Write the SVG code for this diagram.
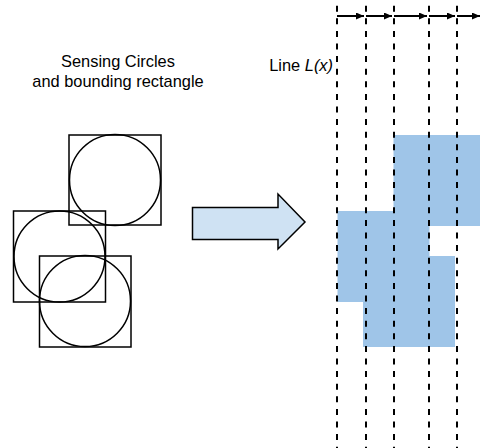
<svg xmlns="http://www.w3.org/2000/svg" width="480" height="448" viewBox="0 0 480 448">
<style>
.lbl{font-family:"Liberation Sans",Arial,sans-serif;font-size:16.4px;fill:#000}
.shape{fill:none;stroke:#000;stroke-width:1.5}
.cell{fill:#9fc5e8;stroke:none}
.dash{stroke:#000;stroke-width:2;stroke-dasharray:6 6.6;stroke-dashoffset:6.9}
.step{stroke:#000;stroke-width:2;marker-end:url(#ah)}
</style>
<defs>
<marker id="ah" viewBox="0 0 8 7" refX="8" refY="3.5" markerWidth="8" markerHeight="7" markerUnits="userSpaceOnUse" orient="auto">
<path d="M0,0 L8,3.5 L0,7 Z" fill="#000"/>
</marker>
</defs>
<rect width="480" height="448" fill="#fff"/>
<g id="title">
<text class="lbl" x="118" y="67" text-anchor="middle">Sensing Circles</text>
<text class="lbl" x="118" y="87" text-anchor="middle">and bounding rectangle</text>
</g>
<g id="sensor-top">
<rect class="shape" x="69" y="135" width="92" height="90"/>
<circle class="shape" cx="115" cy="180" r="45.5"/>
</g>
<g id="sensor-middle">
<rect class="shape" x="13.5" y="211" width="92" height="91"/>
<circle class="shape" cx="59.5" cy="256.5" r="45.5"/>
</g>
<g id="sensor-bottom">
<rect class="shape" x="39.5" y="256" width="91.5" height="91"/>
<circle class="shape" cx="85" cy="301" r="45.5"/>
</g>
<g id="transform-arrow">
<path d="M192.5,207.5 L278,207.5 L278,194 L305,222 L278,249 L278,239.5 L192.5,239.5 Z" fill="#cfe2f3" stroke="#000" stroke-width="1.5" stroke-linejoin="miter"/>
</g>
<g id="cells">
<rect class="cell" x="393.5" y="135" width="90" height="91"/>
<rect class="cell" x="337.5" y="211" width="92" height="91"/>
<rect class="cell" x="363" y="256" width="92" height="91"/>
</g>
<g id="line-label">
<text class="lbl" x="333" y="71" text-anchor="end">Line <tspan font-style="italic">L(x)</tspan></text>
</g>
<g id="connectors">
<line class="dash" x1="337" y1="0" x2="337" y2="448"/>
<line class="dash" x1="366" y1="0" x2="366" y2="448"/>
<line class="dash" x1="394" y1="0" x2="394" y2="448"/>
<line class="dash" x1="429" y1="0" x2="429" y2="448"/>
<line class="dash" x1="457" y1="0" x2="457" y2="448"/>
<line class="step" x1="337" y1="16" x2="364" y2="16"/>
<line class="step" x1="366" y1="16" x2="392" y2="16"/>
<line class="step" x1="394" y1="16" x2="427" y2="16"/>
<line class="step" x1="429" y1="16" x2="455" y2="16"/>
<line class="step" x1="457" y1="16" x2="480" y2="16"/>
</g>
</svg>
